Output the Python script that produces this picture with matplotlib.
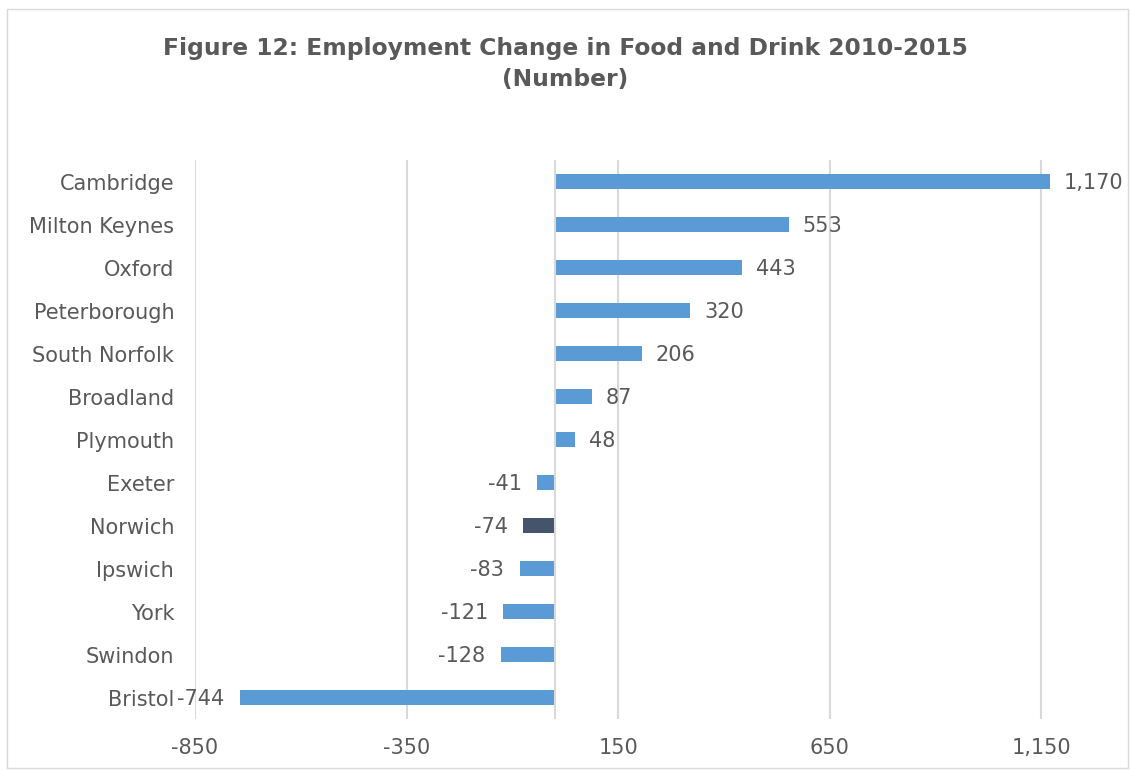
import matplotlib.pyplot as plt
from matplotlib.patches import Rectangle

areas = ['Cambridge', 'Milton Keynes', 'Oxford', 'Peterborough', 'South Norfolk',
         'Broadland', 'Plymouth', 'Exeter', 'Norwich', 'Ipswich', 'York',
         'Swindon', 'Bristol']
change = [1170, 553, 443, 320, 206, 87, 48, -41, -74, -83, -121, -128, -744]
highlight = 'Norwich'
xticks = [-850, -350, 150, 650, 1150]

plt.rcParams['font.family'] = ['DejaVu Sans']
text_col = '#595959'

fig = plt.figure(figsize=(11.31, 7.71), dpi=100)
ax = fig.add_axes([0.1724, 0.0674, 0.8232, 0.725])

ypos = list(range(len(areas)))
colors = ['#44546A' if a == highlight else '#5B9BD5' for a in areas]
ax.barh(ypos, change, height=0.35, color=colors, zorder=3)

# value labels: outside the bar end, on whichever side the bar points
for y, v in zip(ypos, change):
    if v >= 0:
        ax.annotate('{:,}'.format(v), (v, y), xytext=(10, -1), textcoords='offset points',
                    ha='left', va='center', fontsize=15, color=text_col)
    else:
        ax.annotate('{:,}'.format(v), (v, y), xytext=(-11, -1), textcoords='offset points',
                    ha='right', va='center', fontsize=15, color=text_col)

ax.set_xlim(-850, 1350)
ax.set_ylim(len(areas) - 0.5, -0.5)
ax.set_xticks(xticks)
ax.set_xticklabels(['{:,}'.format(t) for t in xticks])
ax.set_yticks(ypos)
ax.set_yticklabels(areas)
ax.tick_params(axis='both', length=0, labelsize=15, colors=text_col)
ax.tick_params(axis='y', pad=15)
ax.tick_params(axis='x', pad=14)
ax.grid(axis='x', color='#D9D9D9', linewidth=1.5, zorder=0)
ax.axvline(0, color='#D9D9D9', linewidth=1.5, zorder=4)
for s in ax.spines.values():
    s.set_visible(False)

fig.text(0.5, 0.917, 'Figure 12: Employment Change in Food and Drink 2010-2015\n(Number)',
         ha='center', va='center', fontsize=16.8, fontweight='bold', color=text_col,
         linespacing=1.45)

fig.patches.append(Rectangle((7 / 1131, 3 / 771), 1121 / 1131, 759 / 771,
                             transform=fig.transFigure, fill=False,
                             edgecolor='#D9D9D9', linewidth=1))

fig.savefig('out.png', dpi=100)
